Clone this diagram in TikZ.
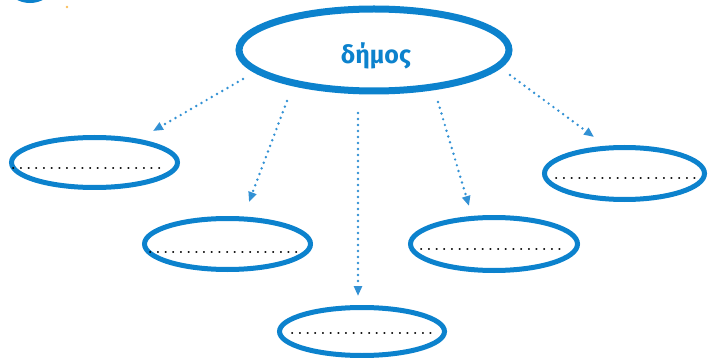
\documentclass[tikz,border=0pt]{standalone}
\usepackage{fontspec}
\usetikzlibrary{arrows.meta}
\newfontfamily\grk{Fira Sans}
\definecolor{dblue}{RGB}{12,130,205}
\definecolor{lblue}{RGB}{50,145,212}
\definecolor{dorange}{RGB}{250,190,90}
\newcommand\dotrow[1]{\foreach\i in {1,...,#1}{.\hspace{3.3pt}}}
\tikzset{
  bigell/.style={draw=dblue, line width=7pt},
  smallell/.style={draw=dblue, line width=5pt},
  conn/.style={draw=lblue, line width=2.7pt, line cap=round,
    dash pattern=on 0pt off 6pt,
    -{Triangle[length=10pt,width=8pt,fill=dblue]}},
  blank/.style={anchor=base west, inner sep=0pt, font=\bfseries\fontsize{14}{14}\selectfont}
}
\begin{document}
\begin{tikzpicture}[x=1pt,y=-1pt]
\useasboundingbox (0,0) rectangle (709,358);
% partial shapes at the top-left edge
\draw[draw=dblue, line width=4pt] (30,-12) ellipse [x radius=19, y radius=13];
\fill[dorange] (67,7) circle (1.3);
% ellipses
\draw[bigell] (374,50) ellipse [x radius=135, y radius=41];
\node[text=dblue, font=\grk\bfseries\fontsize{25}{25}\selectfont, anchor=base] (top) at (376,64) {δήμος};
\draw[smallell] (94.5,162.5) ellipse [x radius=83, y radius=25];
\draw[smallell] (227.5,244) ellipse [x radius=83, y radius=25.5];
\draw[smallell] (362,331.5) ellipse [x radius=82.5, y radius=24];
\draw[smallell] (494,244) ellipse [x radius=83.5, y radius=26.5];
\draw[smallell] (624.5,173.5) ellipse [x radius=80, y radius=26];
% blanks
\node[blank] (b1) at (11,170) {\dotrow{20}};
\node[blank] (b2) at (148,253) {\dotrow{20}};
\node[blank] (b3) at (290,334) {\dotrow{19}};
\node[blank] (b4) at (419,250) {\dotrow{19}};
\node[blank] (b5) at (554,180) {\dotrow{19}};
% connector ends
\coordinate (s1) at (243,79);
\coordinate (t1) at (153,131);
\coordinate (s2) at (287,101);
\coordinate (t2) at (249,202);
\coordinate (s3) at (358,113);
\coordinate (t3) at (358,296);
\coordinate (s4) at (438,102);
\coordinate (t4) at (469,206);
\coordinate (s5) at (510,75);
\coordinate (t5) at (594,137);
\draw[conn] (s1) -- (t1);
\draw[conn] (s2) -- (t2);
\draw[conn] (s3) -- (t3);
\draw[conn] (s4) -- (t4);
\draw[conn] (s5) -- (t5);
\end{tikzpicture}
\end{document}
